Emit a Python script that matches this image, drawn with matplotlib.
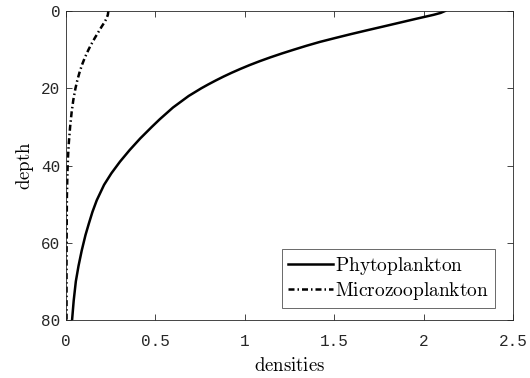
import matplotlib
matplotlib.use('Agg')
import matplotlib.pyplot as plt

plt.rcParams['mathtext.fontset'] = 'cm'

# values
phyto_depth = [0, 0.5, 1, 2, 3, 4, 5, 6, 7, 8, 9, 10, 11, 12, 13, 14, 15, 16, 17, 18,
               19, 20, 22, 25, 28, 30, 33, 36, 39, 42, 45, 49, 52, 55, 58, 62, 66,
               70, 75, 80]
phyto = [2.12, 2.095, 2.055, 1.96, 1.868, 1.776, 1.683, 1.592, 1.505, 1.42, 1.345,
         1.275, 1.207, 1.143, 1.083, 1.027, 0.975, 0.926, 0.880, 0.837, 0.796, 0.757,
         0.686, 0.598, 0.525, 0.480, 0.415, 0.356, 0.302, 0.254, 0.213, 0.172, 0.148,
         0.128, 0.109, 0.088, 0.070, 0.055, 0.043, 0.034]

micro_depth = [0, 1, 2, 3, 4, 5, 6, 7, 8, 9, 10, 12, 14, 16, 18, 20, 23, 26, 30, 34,
               38, 42, 48, 55, 65, 80]
micro = [0.237, 0.234, 0.226, 0.214, 0.200, 0.187, 0.174, 0.161, 0.149, 0.137, 0.126,
         0.106, 0.089, 0.075, 0.063, 0.053, 0.041, 0.032, 0.023, 0.016, 0.011, 0.008,
         0.005, 0.004, 0.003, 0.003]

xticks = [0, 0.5, 1, 1.5, 2, 2.5]
xtick_labels = ['0', '0.5', '1', '1.5', '2', '2.5']
yticks = [0, 20, 40, 60, 80]

fig = plt.figure(figsize=(5.3, 3.78), dpi=100)
ax = fig.add_axes([66 / 530, 58 / 378, 447 / 530, 309 / 378])

ax.plot(phyto, phyto_depth, color='black', lw=1.8, ls='-',
        label=r'$\mathrm{Phytoplankton}$')
ax.plot(micro, micro_depth, color='black', lw=1.8, ls=(0, (2.4, 1.2, 0.6, 1.2)),
        label=r'$\mathrm{Microzooplankton}$')

ax.set_xlim(0, 2.5)
ax.set_ylim(80, 0)
ax.set_xticks(xticks)
ax.set_xticklabels(xtick_labels)
ax.set_yticks(yticks)

axcol = '#262626'
for s in ax.spines.values():
    s.set_color(axcol)
    s.set_linewidth(0.6)
ax.tick_params(direction='in', length=4, width=0.6, color=axcol, labelcolor=axcol,
               top=True, right=True, labelsize=11.5)
ax.tick_params(axis='x', pad=10)
ax.tick_params(axis='y', pad=4)
for lab in ax.get_xticklabels() + ax.get_yticklabels():
    lab.set_family('Liberation Mono')

ax.set_xlabel(r'$\mathrm{densities}$', fontsize=13.5, labelpad=5)
ax.set_ylabel(r'$\mathrm{depth}$', fontsize=13.5, labelpad=4)

leg = ax.legend(loc='lower right', bbox_to_anchor=(0.96, 0.039), fontsize=14,
                frameon=True, fancybox=False, handlelength=2.3, handletextpad=0.15,
                borderpad=0.3, labelspacing=0.15, borderaxespad=0)
leg.get_frame().set_edgecolor(axcol)
leg.get_frame().set_linewidth(0.6)

fig.savefig('out.png', dpi=100)
